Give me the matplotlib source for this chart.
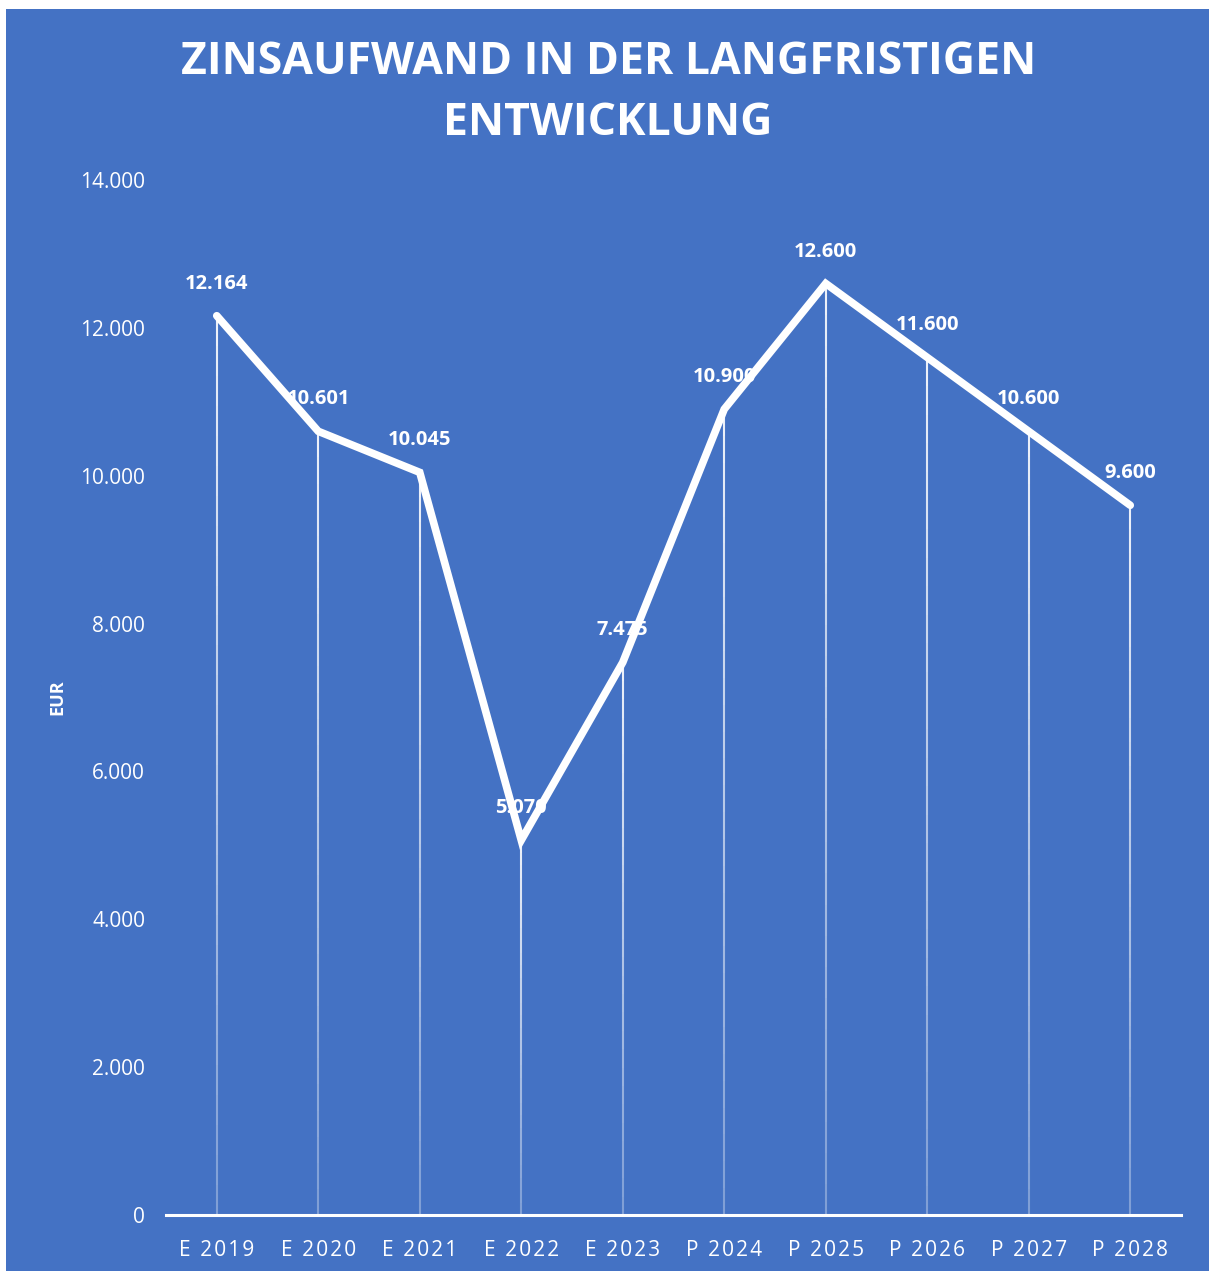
import numpy as np
import matplotlib.pyplot as plt
from matplotlib.patches import Rectangle
from matplotlib.collections import LineCollection
from matplotlib.ticker import FuncFormatter

# datos
jahre = ['E 2019', 'E 2020', 'E 2021', 'E 2022', 'E 2023',
         'P 2024', 'P 2025', 'P 2026', 'P 2027', 'P 2028']
zinsaufwand = [12164, 10601, 10045, 5070, 7475, 10900, 12600, 11600, 10600, 9600]
y_ticks = [0, 2000, 4000, 6000, 8000, 10000, 12000, 14000]

blau = '#4472C4'
plt.rcParams['font.family'] = ['Open Sans', 'DejaVu Sans']

fig = plt.figure(figsize=(12.09, 12.71), dpi=100, facecolor='white')
# fondo azul del grafico
fig.patches.append(Rectangle((6 / 1209, 0), 1 - 6 / 1209, 1 - 9 / 1271,
                             transform=fig.transFigure, facecolor=blau,
                             edgecolor='none', zorder=-10))

ax = fig.add_axes([166 / 1209, 56 / 1271, 1015 / 1209, 1035 / 1271])
ax.set_facecolor('none')

x = np.arange(len(jahre))

# lineas verticales con degradado hacia abajo
n_seg = 30
segs = []
cols = []
for xi, v in zip(x, zinsaufwand):
    bordes = np.linspace(v, 0, n_seg + 1)
    for k in range(n_seg):
        segs.append([(xi, bordes[k]), (xi, bordes[k + 1])])
        cols.append((1, 1, 1, 0.9 - 0.6 * k / n_seg))
ax.add_collection(LineCollection(segs, colors=cols, linewidths=1.5, zorder=2))

# linea principal
ax.plot(x, zinsaufwand, color='white', linewidth=5.5,
        solid_capstyle='round', solid_joinstyle='miter', zorder=3)

# etiquetas de datos
for xi, v in zip(x, zinsaufwand):
    ax.annotate(f'{v:,}'.replace(',', '.'), (xi, v), xytext=(0, 23),
                textcoords='offset points', ha='center', va='center',
                color='white', fontsize=14.5, fontweight='bold', zorder=4)

# etiquetas del eje x con espaciado entre letras
espaciado = '\u200a'
ax.set_xlim(-0.5, len(jahre) - 0.5)
ax.set_ylim(0, 14000)
ax.set_yticks(y_ticks)
ax.yaxis.set_major_formatter(FuncFormatter(lambda v, p: f'{int(v):,}'.replace(',', '.')))
ax.set_xticks(x)
ax.set_xticklabels([espaciado.join(j) for j in jahre])

for s in ['top', 'right', 'left']:
    ax.spines[s].set_visible(False)
ax.spines['bottom'].set_color('white')
ax.spines['bottom'].set_linewidth(2.2)
ax.tick_params(axis='both', length=0, colors='white')
ax.tick_params(axis='y', labelsize=15, pad=15)
ax.tick_params(axis='x', labelsize=15, pad=18)

ax.set_ylabel('EUR', color='white', fontsize=13, fontweight='bold', labelpad=10)

fig.text(0.503, 1 - 93 / 1271, 'ZINSAUFWAND IN DER LANGFRISTIGEN\nENTWICKLUNG',
         ha='center', va='center', color='white', fontsize=32, fontweight='bold',
         linespacing=1.47)

fig.savefig('out.png', dpi=100, facecolor='white')
